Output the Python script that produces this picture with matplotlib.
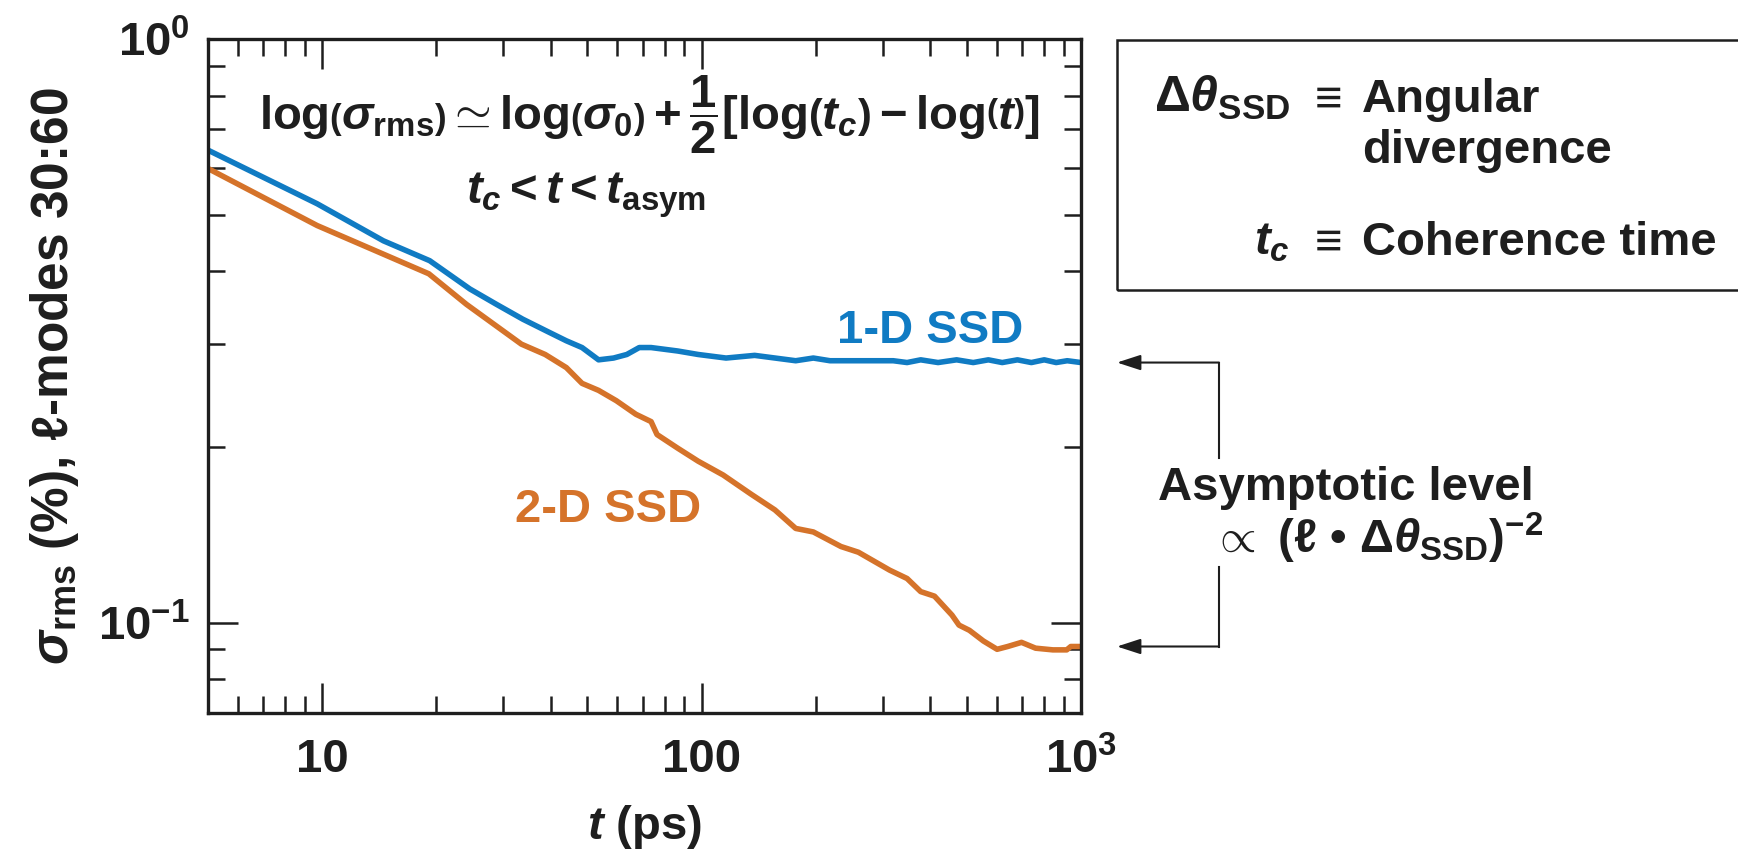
import numpy as np
import matplotlib
matplotlib.use('Agg')
import matplotlib.pyplot as plt
from matplotlib.transforms import IdentityTransform
from matplotlib.patches import Rectangle, FancyArrowPatch
from matplotlib.lines import Line2D
from matplotlib.ticker import FixedLocator, LogLocator, NullFormatter

plt.rcParams['font.family'] = ['Liberation Sans', 'DejaVu Sans']
plt.rcParams['font.weight'] = 'bold'
plt.rcParams['axes.labelweight'] = 'bold'
plt.rcParams['mathtext.fontset'] = 'custom'
plt.rcParams['mathtext.rm'] = 'Liberation Sans:bold'
plt.rcParams['mathtext.it'] = 'Liberation Sans:bold:italic'
plt.rcParams['mathtext.bf'] = 'Liberation Sans:bold'
plt.rcParams['mathtext.sf'] = 'Liberation Sans:bold'

BLUE = '#107bc3'
ORANGE = '#d5732a'
INK = '#1e1e1e'

# sigma_rms (%) vs t (ps), l-modes 30:60
t_1d = [5, 9.7, 14.5, 19.2, 24.5, 28.8, 33.8, 39, 44, 48.4, 53.5, 58.6, 63.5, 68.5,
        73.6, 86.5, 98, 116, 138, 177, 197, 218, 260, 320, 348, 378, 420, 470, 520,
        570, 620, 680, 740, 800, 860, 920, 1000]
s_1d = [0.645, 0.522, 0.451, 0.417, 0.373, 0.351, 0.331, 0.316, 0.304, 0.296, 0.282,
        0.284, 0.288, 0.296, 0.296, 0.292, 0.288, 0.284, 0.287, 0.281, 0.284, 0.281,
        0.281, 0.281, 0.279, 0.282, 0.279, 0.282, 0.279, 0.282, 0.279, 0.282, 0.279,
        0.282, 0.279, 0.281, 0.279]

t_2d = [5, 9.7, 19.1, 24, 33.5, 38.7, 44, 48.4, 53.5, 59.6, 67.1, 73.6, 76.3, 86.5,
        98, 114, 135, 156, 177, 197, 233, 259, 313, 348, 378, 411, 457, 477, 508, 553,
        601, 641, 697, 759, 843, 917, 940, 1000]
s_2d = [0.600, 0.479, 0.396, 0.351, 0.300, 0.288, 0.2735, 0.257, 0.250, 0.240, 0.2275,
        0.221, 0.210, 0.199, 0.189, 0.179, 0.166, 0.156, 0.145, 0.143, 0.135, 0.132,
        0.123, 0.119, 0.113, 0.111, 0.103, 0.099, 0.097, 0.093, 0.090, 0.091, 0.0925,
        0.0904, 0.0898, 0.0898, 0.091, 0.091]

x_ticks = [10, 100, 1000]
x_labels = ['10', '100', r'$10^{3}$']
y_ticks = [0.1, 1]
y_labels = [r'$10^{-1}$', r'$10^{0}$']

W, H = 1738, 858
FS = 34

fig = plt.figure(figsize=(W / 100, H / 100), dpi=100)
ax = fig.add_axes([208 / W, 1 - 713 / H, 873 / W, 674 / H])

ax.plot(t_1d, s_1d, color=BLUE, lw=4.0, solid_joinstyle='round')
ax.plot(t_2d, s_2d, color=ORANGE, lw=4.0, solid_joinstyle='round')

ax.set_xscale('log')
ax.set_yscale('log')
ax.set_xlim(5, 1000)
ax.set_ylim(0.07, 1)

ax.xaxis.set_major_locator(FixedLocator(x_ticks))
ax.set_xticklabels(x_labels)
ax.xaxis.set_minor_locator(LogLocator(base=10, subs=np.arange(2, 10), numticks=20))
ax.xaxis.set_minor_formatter(NullFormatter())
ax.yaxis.set_major_locator(FixedLocator(y_ticks))
ax.set_yticklabels(y_labels)
ax.yaxis.set_minor_locator(LogLocator(base=10, subs=np.arange(2, 10), numticks=20))
ax.yaxis.set_minor_formatter(NullFormatter())

ax.tick_params(which='both', direction='in', top=True, right=True, width=1.8, color=INK)
ax.tick_params(which='major', length=21.5, labelsize=FS, labelcolor=INK)
ax.tick_params(which='minor', length=12)
ax.tick_params(axis='x', which='major', pad=18)
ax.tick_params(axis='y', which='major', pad=13)
for sp in ax.spines.values():
    sp.set_linewidth(2.4)
    sp.set_color(INK)

ax.set_xlabel(r'$t$ (ps)', fontsize=FS, labelpad=14, color=INK)
ax.set_ylabel(r'$\sigma_{\mathrm{rms}}$ (%), ℓ-modes 30:60', fontsize=37, labelpad=12, color=INK)


def ftext(x, y, s, **kw):
    # place text using pixel positions measured from the top-left corner
    kw.setdefault('fontsize', FS)
    kw.setdefault('color', INK)
    return fig.text(x / W, 1 - y / H, s, **kw)


ftext(649, 115, r'$\mathrm{log}\left(\sigma_{\mathrm{rms}}\right) \simeq \mathrm{log}\left(\sigma_{0}\right)'
      r' + \dfrac{1}{2}\left[\mathrm{log}\left(t_{c}\right) - \mathrm{log}\left(t\right)\right]$',
      ha='center', va='center')
ftext(586, 203, r'$t_{c} < t < t_{\mathrm{asym}}$', ha='center', va='baseline')

ftext(837, 343, '1-D SSD', color=BLUE, ha='left', va='baseline')
ftext(515, 522, '2-D SSD', color=ORANGE, ha='left', va='baseline')

# definitions box on the right
fig.add_artist(Rectangle((1117, H - 290), 640, 250, transform=IdentityTransform(),
                         fill=False, lw=1.8, edgecolor=INK, clip_on=False))
ftext(1290, 112, r'$\Delta\theta_{\mathrm{SSD}}$', ha='right', va='baseline', fontsize=36)
ftext(1324, 112, r'$\equiv$', ha='center', va='baseline')
ftext(1362, 112, 'Angular', ha='left', va='baseline')
ftext(1362, 163, 'divergence', ha='left', va='baseline')
ftext(1290, 255, r'$t_{c}$', ha='right', va='baseline')
ftext(1324, 255, r'$\equiv$', ha='center', va='baseline')
ftext(1362, 255, 'Coherence time', ha='left', va='baseline')

# bracket pointing at the two asymptotic levels
y1 = ax.transData.transform((1000, s_1d[-1]))[1]
y2 = ax.transData.transform((1000, s_2d[-1]))[1]
xb, xtip = 1219, 1117
fig.add_artist(Line2D([xb, xb], [y1, H - 458], transform=IdentityTransform(), color=INK, lw=1.5))
fig.add_artist(Line2D([xb, xb], [H - 567, y2], transform=IdentityTransform(), color=INK, lw=1.5))
for yy in (y1, y2):
    fig.add_artist(FancyArrowPatch((xb, yy), (xtip, yy), transform=IdentityTransform(),
                                   arrowstyle='-|>,head_length=0.4,head_width=0.13',
                                   mutation_scale=36, shrinkA=0, shrinkB=0,
                                   color=INK, lw=1.5))

ftext(1346, 500, 'Asymptotic level', ha='center', va='baseline')
ftext(1377, 553, r'$\propto$ (ℓ • $\Delta\theta_{\mathrm{SSD}}$)$^{-2}$', ha='center', va='baseline')

fig.savefig('out.png', dpi=100)
